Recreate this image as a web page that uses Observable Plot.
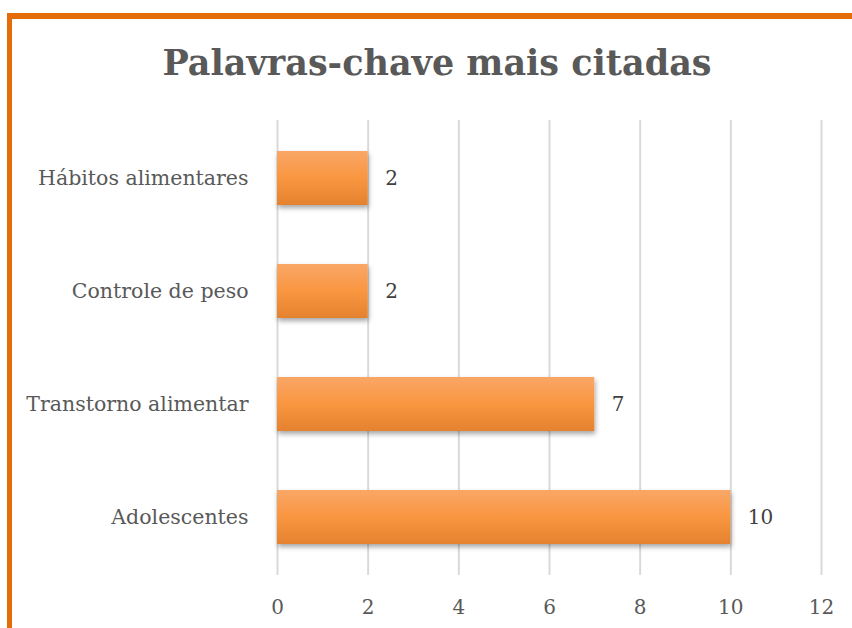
<!DOCTYPE html>
<html><head><meta charset="utf-8">
<script src="https://cdn.jsdelivr.net/npm/d3@7"></script>
<script src="https://cdn.jsdelivr.net/npm/@observablehq/plot@0.6"></script>
<style>
body{margin:0;background:#fff;}
#wrap{position:relative;width:852px;height:628px;overflow:hidden;background:#fff;}
#border{position:absolute;left:7px;top:13px;width:900px;height:700px;border-top:6px solid #E46C0A;border-left:5px solid #E46C0A;box-sizing:border-box;}
#title{position:absolute;left:0;width:874px;top:42px;text-align:center;font-family:"DejaVu Serif",serif;font-weight:bold;font-size:35px;color:#595959;}
#chart{position:absolute;left:0;top:0;}
</style></head>
<body><div id="wrap"><div id="border"></div><div id="chart"></div><div id="title">Palavras-chave mais citadas</div></div>
<script>
const categories = ["Hábitos alimentares","Controle de peso","Transtorno alimentar","Adolescentes"];
const values = [2,2,7,10];
const xTicks = [0,2,4,6,8,10,12];
const data = categories.map((c,i)=>({c, v: values[i]}));

const plot = Plot.plot({
  width: 852, height: 628,
  marginTop: 120, marginBottom: 53, marginLeft: 277, marginRight: 31,
  style: {fontFamily: '"DejaVu Serif", serif', fontSize: "20px", color: "#595959", background: "transparent"},
  x: {domain: [0,12], ticks: xTicks, label: null},
  y: {domain: categories, label: null, paddingInner: 0.525, paddingOuter: 0.2625},
  marks: [
    Plot.gridX(xTicks, {stroke: "#D9D9D9", strokeWidth: 2, strokeOpacity: 1}),
    Plot.barX(data, {x: "v", y: "c", fill: "url(#barGrad)"}),
    Plot.text(data, {x: "v", y: "c", text: d => String(d.v), textAnchor: "start", dx: 17, fill: "#404040", fontSize: 20}),
    Plot.axisX({ticks: xTicks, tickSize: 0, tickPadding: 24, fontSize: 20, label: null}),
    Plot.axisY({tickSize: 0, tickPadding: 29, fontSize: 20.5, label: null})
  ]
});
document.getElementById("chart").appendChild(plot);
const svg = d3.select(plot);
const defs = svg.insert("defs", ":first-child");
const g = defs.append("linearGradient").attr("id","barGrad").attr("x1",0).attr("y1",0).attr("x2",0).attr("y2",1);
g.append("stop").attr("offset","0%").attr("stop-color","#F9A767");
g.append("stop").attr("offset","50%").attr("stop-color","#F99640");
g.append("stop").attr("offset","100%").attr("stop-color","#E4822F");
const f = defs.append("filter").attr("id","shadow").attr("x","-10%").attr("y","-20%").attr("width","130%").attr("height","160%");
f.append("feDropShadow").attr("dx",1).attr("dy",3).attr("stdDeviation",2.5).attr("flood-color","#000").attr("flood-opacity",0.35);
svg.selectAll("rect").attr("filter","url(#shadow)");
</script></body></html>
